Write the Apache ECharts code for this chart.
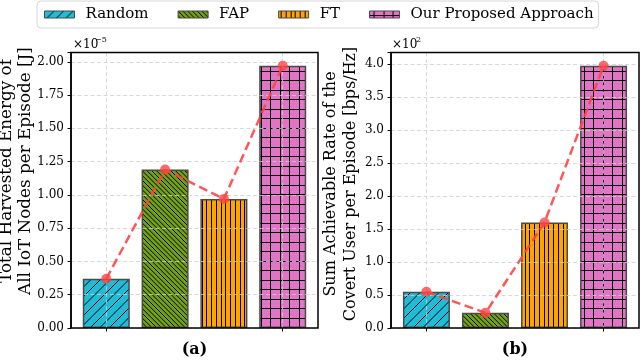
<!DOCTYPE html>
<html>
<head>
<meta charset="utf-8">
<script src="https://cdn.jsdelivr.net/npm/echarts@6/dist/echarts.min.js"></script>
<style>
  html, body { margin: 0; padding: 0; background: #fff; }
  #chart { width: 640px; height: 361px; }
</style>
</head>
<body>
<div id="chart"></div>
<script>
// data
const methods = ["Random", "FAP", "FT", "Our Proposed Approach"];
const energy = [0.37, 1.19, 0.97, 1.97]; // x1e-5 J
const rate = [0.55, 0.23, 1.6, 3.98]; // x1e2 bps/Hz
const energyTicks = [0, 0.25, 0.5, 0.75, 1.0, 1.25, 1.5, 1.75, 2.0];
const rateTicks = [0, 0.5, 1.0, 1.5, 2.0, 2.5, 3.0, 3.5, 4.0];

const FONT = "DejaVu Serif";
const colors = ["#1fbbd7", "#72a116", "#fca400", "#e074c6"];
const hatches = ["/", "\\\\", "||", "+"];

// matplotlib-like hatch pattern on a canvas tile
function hatch(color, kind) {
  const T = 19;
  const c = document.createElement("canvas");
  c.width = T;
  c.height = T;
  const g = c.getContext("2d");
  g.fillStyle = color;
  g.fillRect(0, 0, T, T);
  g.strokeStyle = "#000";
  g.lineWidth = 1;
  g.beginPath();
  if (kind === "/" || kind === "\\\\") {
    const k = kind === "/" ? 2 : 4;
    const step = T / k;
    if (kind === "/") {
      for (let s = 0; s <= 2 * T + 0.01; s += step) {
        g.moveTo(s + 2, -2);
        g.lineTo(s - T - 2, T + 2);
      }
    } else {
      for (let s = -T; s <= T + 0.01; s += step) {
        g.moveTo(s - 2, -2);
        g.lineTo(s + T + 2, T + 2);
      }
    }
  } else if (kind === "||") {
    for (let i = 0; i < 4; i++) {
      const x = Math.round(i * T / 4 + 2) + 0.5;
      g.moveTo(x, 0);
      g.lineTo(x, T);
    }
  } else {
    for (let i = 0; i < 2; i++) {
      const p = Math.round(i * T / 2 + 4) + 0.5;
      g.moveTo(p, 0);
      g.lineTo(p, T);
      g.moveTo(0, p);
      g.lineTo(T, p);
    }
  }
  g.stroke();
  return { image: c, repeat: "repeat" };
}
const patterns = colors.map((c, i) => hatch(c, hatches[i]));

const chart = echarts.init(document.getElementById("chart"), null, { renderer: "canvas" });

const frameTop = 52.5;
const frameH = 275.5;
const panels = [
  { left: 71, width: 247, values: energy, ticks: energyTicks, max: 2.07, step: 0.25, dec: 2 },
  { left: 391, width: 248, values: rate, ticks: rateTicks, max: 4.18, step: 0.5, dec: 1 },
];

const grid = [];
const xAxis = [];
const yAxis = [];
const series = [];
const gridLine = { show: true, lineStyle: { color: "#cfcfcf", width: 0.8, type: [4, 2.5] } };

panels.forEach((p, k) => {
  const unit = p.width / 4.2;
  // frame grid: box, y ticks, horizontal grid lines
  grid.push({
    left: p.left, top: frameTop, width: p.width, height: frameH,
    show: true, borderColor: "#000", borderWidth: 1.5, backgroundColor: "transparent", z: 4,
  });
  xAxis.push({ type: "value", gridIndex: 2 * k, min: 0, max: 1, show: false });
  yAxis.push({
    type: "value", gridIndex: 2 * k, min: 0, max: p.max, interval: p.step, z: 3,
    axisLine: { show: true, lineStyle: { color: "#000", width: 1.5 } },
    axisTick: { show: true, length: 3.5, lineStyle: { color: "#000", width: 1 } },
    axisLabel: {
      margin: 7, color: "#000", fontFamily: FONT, fontSize: 12,
      formatter: (v) => (p.ticks.some((t) => Math.abs(t - v) < 1e-6) ? v.toFixed(p.dec) : ""),
    },
    splitLine: gridLine,
  });
  // data grid: category centers at 0..3 of an xlim of -0.6..3.6
  grid.push({
    left: p.left + 0.6 * unit, top: frameTop, width: 3 * unit, height: frameH,
  });
  xAxis.push({
    type: "category", gridIndex: 2 * k + 1, data: methods, boundaryGap: false, z: 3,
    axisLine: { show: false },
    axisTick: { show: true, length: 3.5, lineStyle: { color: "#000", width: 1 } },
    axisLabel: { show: false },
    splitLine: gridLine,
  });
  yAxis.push({ type: "value", gridIndex: 2 * k + 1, min: 0, max: p.max, show: false });

  methods.forEach((m, i) => {
    series.push({
      name: m, type: "bar", xAxisIndex: 2 * k + 1, yAxisIndex: 2 * k + 1,
      data: p.values.map((v, j) => (j === i ? v : "-")),
      barWidth: Math.round(0.8 * unit), barGap: "-100%", clip: false, z: 2,
      itemStyle: { color: patterns[i], borderColor: "#4a4a4a", borderWidth: 1.5 },
    });
  });
  series.push({
    name: "trend" + k, type: "line", xAxisIndex: 2 * k + 1, yAxisIndex: 2 * k + 1,
    data: p.values, clip: false, z: 6,
    symbol: "circle", symbolSize: 10,
    lineStyle: { color: "#ff4444", width: 2.5, type: [9, 4.5], opacity: 0.9 },
    itemStyle: { color: "#ff4444", opacity: 0.8 },
  });
});

const option = {
  animation: false,
  backgroundColor: "#fff",
  grid,
  xAxis,
  yAxis,
  series,
  legend: {
    data: methods,
    left: 37, top: 1,
    padding: [6, 5, 6, 7],
    itemWidth: 30, itemHeight: 7, itemGap: 29,
    icon: "rect",
    borderColor: "#d6d6d6", borderWidth: 1, borderRadius: 4,
    backgroundColor: "#fff",
    itemStyle: { borderColor: "#4a4a4a", borderWidth: 1 },
    textStyle: { fontFamily: FONT, fontSize: 15, color: "#000", padding: [0, 0, 0, 6] },
  },
  graphic: [
    { type: "text", left: 73, top: 39, style: { text: "×10", font: "12px '" + FONT + "'", fill: "#000" } },
    { type: "text", left: 95, top: 36, style: { text: "−5", font: "8px '" + FONT + "'", fill: "#000" } },
    { type: "text", left: 392, top: 39, style: { text: "×10", font: "12px '" + FONT + "'", fill: "#000" } },
    { type: "text", left: 416, top: 36, style: { text: "2", font: "8px '" + FONT + "'", fill: "#000" } },
    {
      type: "text", x: 16, y: 171, rotation: Math.PI / 2,
      style: {
        text: "Total Harvested Energy of\nAll IoT Nodes per Episode [J]",
        font: "16.8px '" + FONT + "'", lineHeight: 19.5, fill: "#000",
        align: "center", verticalAlign: "middle",
      },
    },
    {
      type: "text", x: 341, y: 184, rotation: Math.PI / 2,
      style: {
        text: "Sum Achievable Rate of the\nCovert User per Episode [bps/Hz]",
        font: "16px '" + FONT + "'", lineHeight: 20, fill: "#000",
        align: "center", verticalAlign: "middle",
      },
    },
    {
      type: "text", x: 194.5, y: 350,
      style: { text: "(a)", font: "bold 16px '" + FONT + "'", fill: "#000", align: "center", verticalAlign: "middle" },
    },
    {
      type: "text", x: 515, y: 350,
      style: { text: "(b)", font: "bold 16px '" + FONT + "'", fill: "#000", align: "center", verticalAlign: "middle" },
    },
  ],
};
chart.setOption(option);
</script>
</body>
</html>
